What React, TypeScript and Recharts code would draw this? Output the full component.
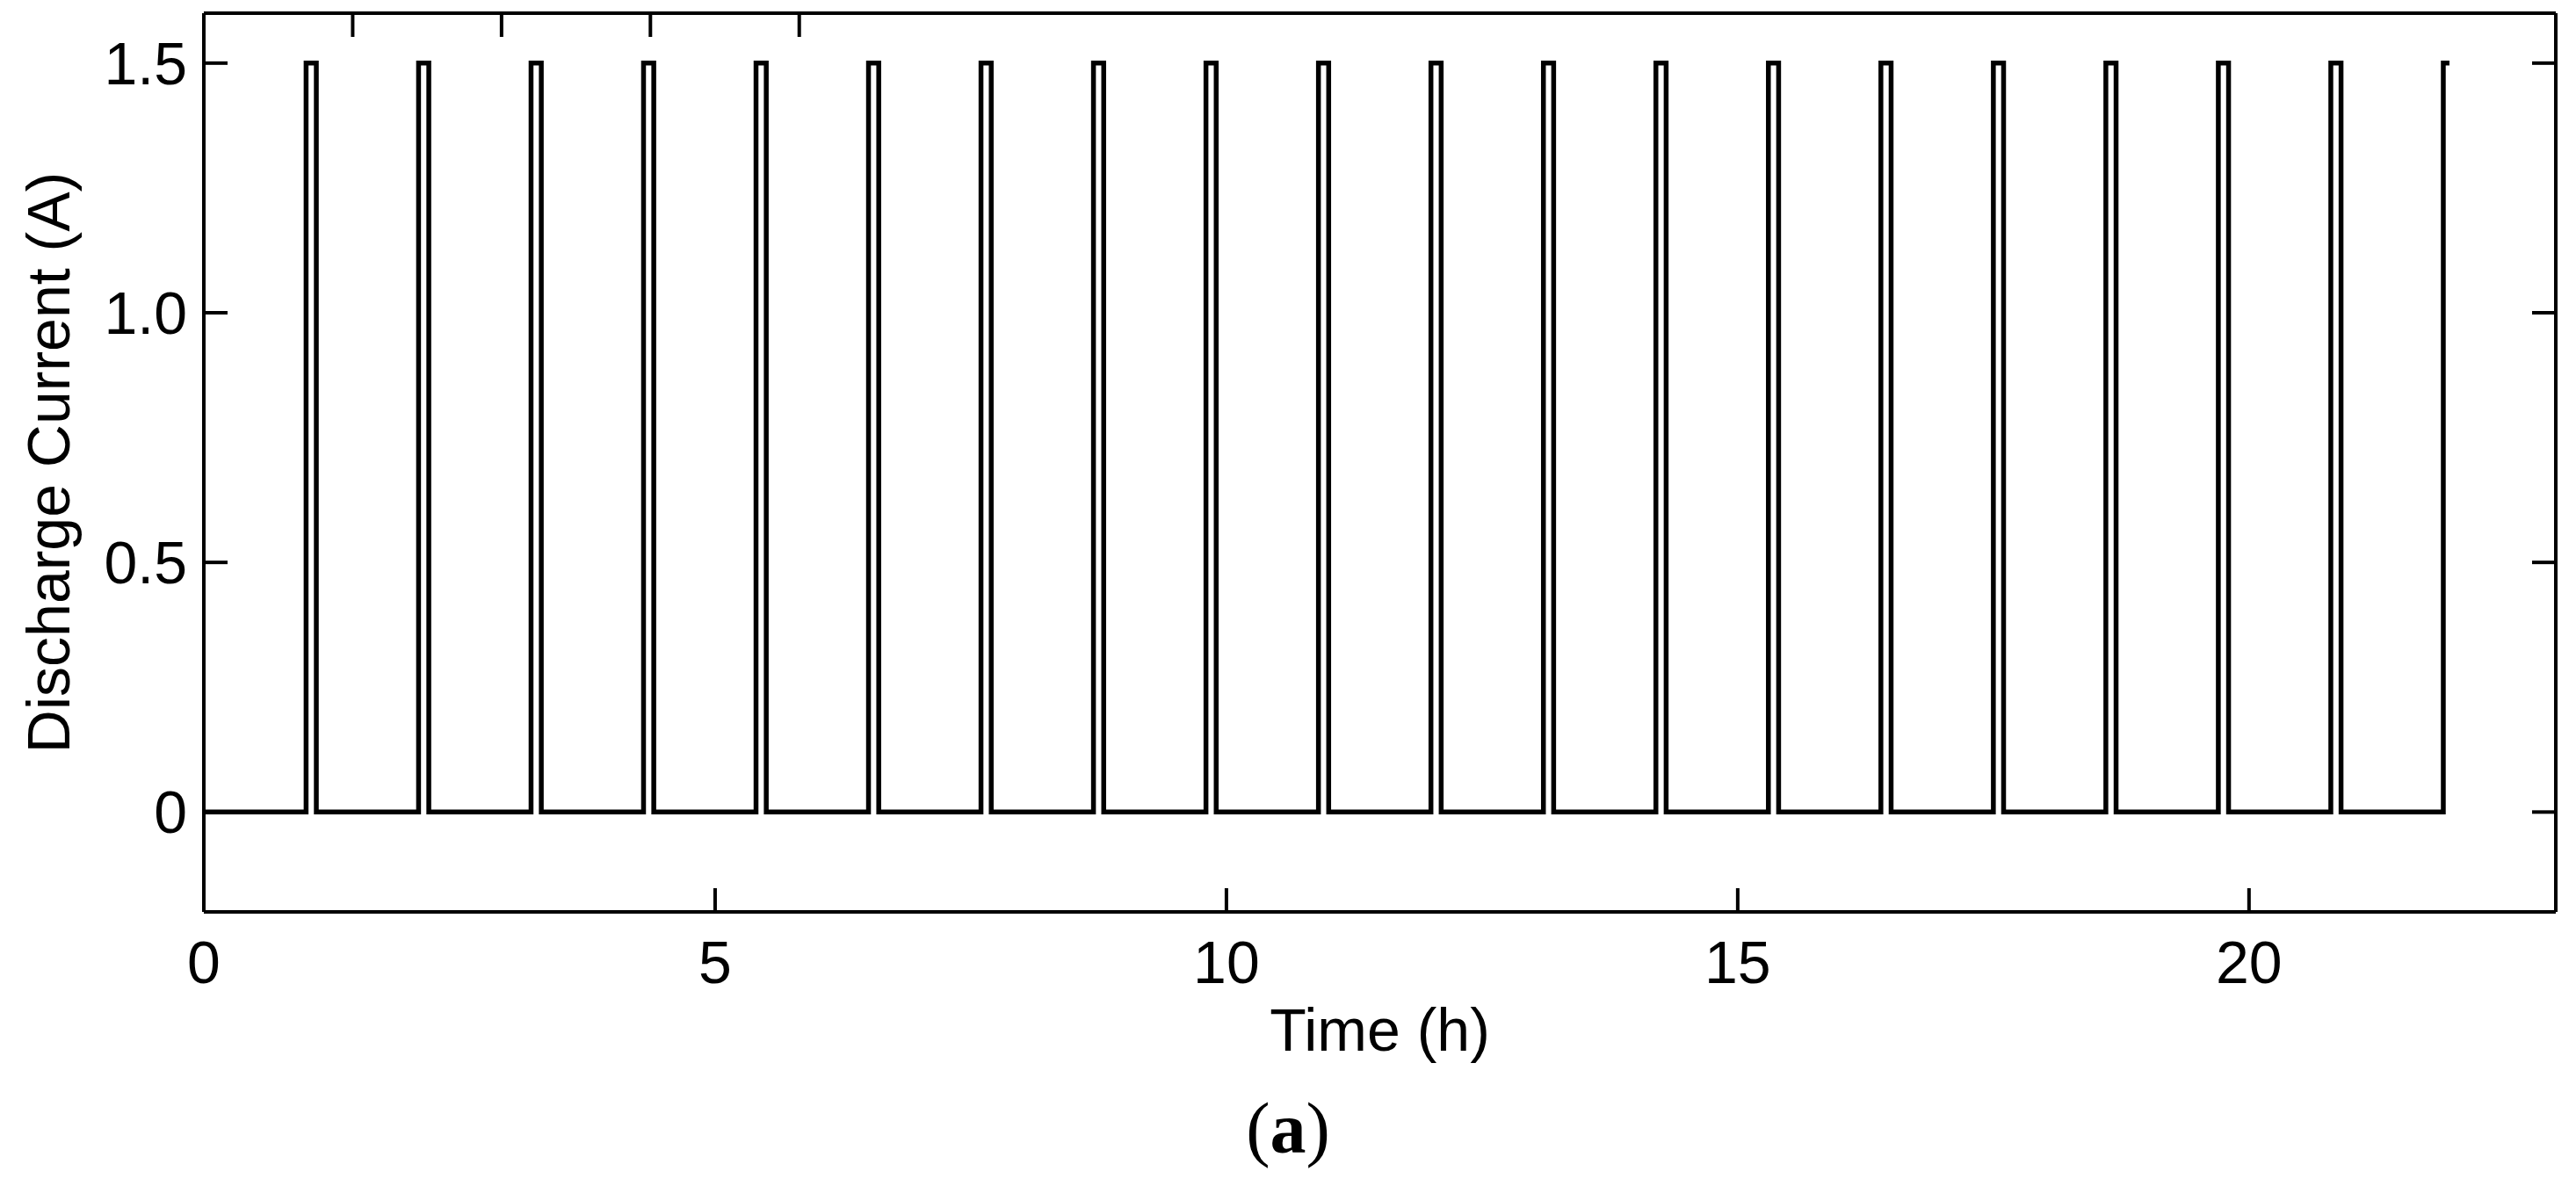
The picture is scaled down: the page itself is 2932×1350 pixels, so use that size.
import React from 'react';
import { LineChart, Line, XAxis, YAxis } from 'recharts';

// Pulse timing (hours)
const pulseStart = [1.0, 2.1, 3.2, 4.3, 5.4, 6.5, 7.6, 8.7, 9.8, 10.9, 12.0, 13.1, 14.2, 15.3, 16.4, 17.5, 18.6, 19.7, 20.8];
const pulseEnd = [1.1, 2.2, 3.3, 4.4, 5.5, 6.6, 7.7, 8.8, 9.9, 11.0, 12.1, 13.2, 14.3, 15.4, 16.5, 17.6, 18.7, 19.8, 20.9];
const lastRise = 21.9;
const traceEnd = 21.96;
const restCurrent = 0;
const pulseCurrent = 1.5;

const xTicks = [0, 5, 10, 15, 20];
const xTickLabels = ['0', '5', '10', '15', '20'];
const yTicks = [0, 0.5, 1.0, 1.5];
const yTickLabels = ['0', '0.5', '1.0', '1.5'];
const xDomain = [0, 23];
const yDomain = [-0.2, 1.6];

const xTitle = 'Time (h)';
const yTitle = 'Discharge Current (A)';

const data: { t: number; i: number }[] = [{ t: 0, i: restCurrent }];
pulseStart.forEach((s, k) => {
  data.push({ t: s, i: restCurrent });
  data.push({ t: s, i: pulseCurrent });
  data.push({ t: pulseEnd[k], i: pulseCurrent });
  data.push({ t: pulseEnd[k], i: restCurrent });
});
data.push({ t: lastRise, i: restCurrent });
data.push({ t: lastRise, i: pulseCurrent });
data.push({ t: traceEnd, i: pulseCurrent });

const SANS = '"Liberation Sans", Arial, Helvetica, sans-serif';
const SERIF = '"Liberation Serif", "Times New Roman", serif';
const FS = 68;

const XLabel = (props: any) => {
  const vb = props.viewBox || { x: 232, y: 1038, width: 2677, height: 312 };
  const cx = vb.x + vb.width / 2;
  return (
    <g>
      <text x={cx} y={vb.y + 158} textAnchor="middle" fontSize={FS} fontFamily={SANS} fill="#000">
        {xTitle}
      </text>
      <text x={1466} y={1312} textAnchor="middle" fontSize={82} fontFamily={SERIF} fill="#000">
        (<tspan fontWeight="bold">a</tspan>)
      </text>
    </g>
  );
};

const YLabel = (props: any) => {
  const vb = props.viewBox || { x: 0, y: 15, width: 232, height: 1023 };
  const x = vb.x + 79;
  const y = vb.y + vb.height / 2;
  return (
    <text
      x={x}
      y={y}
      textAnchor="middle"
      fontSize={FS}
      fontFamily={SANS}
      fill="#000"
      transform={`rotate(-90 ${x} ${y})`}
    >
      {yTitle}
    </text>
  );
};

const EmptyTick = () => <g />;

const axisLine = { stroke: '#000', strokeWidth: 4 };
const tickLine = { stroke: '#000', strokeWidth: 4 };
const tickFont = { fontSize: FS, fill: '#000', fontFamily: SANS };

export default function App() {
  return (
    <div style={{ position: 'absolute', left: 0, top: 0, width: 2932, height: 1350, background: '#fff' }}>
      <LineChart width={2932} height={1350} data={data} margin={{ top: 0, right: 0, bottom: 0, left: 0 }}>
        <XAxis
          dataKey="t"
          type="number"
          domain={xDomain}
          ticks={xTicks}
          interval={0}
          allowDataOverflow
          height={312}
          axisLine={axisLine}
          tickLine={tickLine}
          tickSize={-27}
          tickMargin={60}
          tick={tickFont}
          tickFormatter={(v: number) => xTickLabels[xTicks.indexOf(v)] ?? String(v)}
          label={<XLabel />}
        />
        <XAxis
          xAxisId="top"
          orientation="top"
          type="number"
          domain={xDomain}
          ticks={xTicks}
          interval={0}
          allowDataOverflow
          height={15}
          axisLine={axisLine}
          tickLine={tickLine}
          tickSize={-27}
          tick={EmptyTick}
        />
        <YAxis
          type="number"
          domain={yDomain}
          ticks={yTicks}
          interval={0}
          allowDataOverflow
          width={232}
          axisLine={axisLine}
          tickLine={tickLine}
          tickSize={-27}
          tickMargin={46}
          tick={tickFont}
          tickFormatter={(v: number) => yTickLabels[yTicks.indexOf(v)] ?? String(v)}
          label={<YLabel />}
        />
        <YAxis
          yAxisId="right"
          orientation="right"
          type="number"
          domain={yDomain}
          ticks={yTicks}
          interval={0}
          allowDataOverflow
          width={23}
          axisLine={axisLine}
          tickLine={tickLine}
          tickSize={-27}
          tick={EmptyTick}
        />
        <Line
          type="linear"
          dataKey="i"
          stroke="#000"
          strokeWidth={5.5}
          strokeLinejoin="miter"
          dot={false}
          activeDot={false}
          isAnimationActive={false}
        />
      </LineChart>
    </div>
  );
}
